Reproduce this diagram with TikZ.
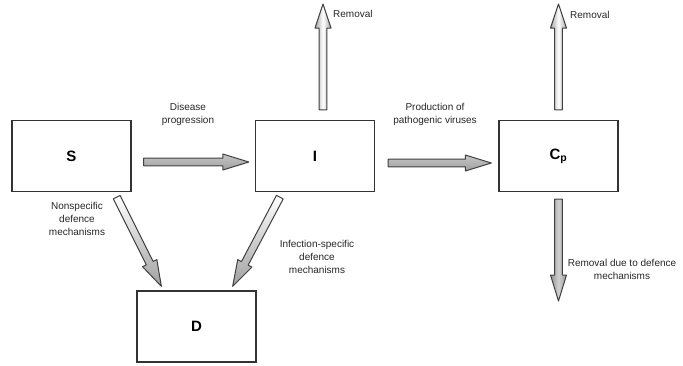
\documentclass[tikz,border=0pt]{standalone}
\usepackage{fontspec}
\setmainfont{Liberation Sans}
\usetikzlibrary{calc}
\tikzset{
  box/.style={draw=black!80, line width=1.3pt, minimum width=119pt, minimum height=71pt, inner sep=0pt, font=\fontsize{15}{18}\selectfont\bfseries},
  lbl/.style={font=\fontsize{10}{13}\selectfont, align=center, inner sep=0pt, text=black!85},
  farrow/.style={draw=black!75, line width=1pt, line join=round},
  grayh/.style={farrow, top color=gray!45, bottom color=gray!75},
  hollowv/.style={farrow, left color=gray!70, right color=gray!70, middle color=white},
  grayv/.style={farrow, left color=gray!85, right color=gray!85, middle color=gray!35},
  diag/.style={farrow, top color=white, bottom color=gray!75},
}
% \fatarrow[style]{start}{end}{headlength}
\newcommand{\fatarrow}[4][]{%
  \coordinate (fah) at ($(#3)!#4!(#2)$);
  \path[#1] ($(#2)!3.8pt!90:(#3)$) -- ($(fah)!3.8pt!90:(#3)$) -- ($(fah)!8pt!90:(#3)$) -- (#3)
    -- ($(fah)!8pt!-90:(#3)$) -- ($(fah)!3.8pt!-90:(#3)$) -- ($(#2)!3.8pt!-90:(#3)$) -- cycle;
}
\begin{document}
\begin{tikzpicture}[x=1pt, y=-1pt]
\useasboundingbox (0,0) rectangle (683,365);
% boxes
\node[box] (S) at (71.5,156) {S};
\node[box] (I) at (315,156) {I};
\node[box] (C) at (558.5,156) {C\textsubscript{p}};
\node[box] (D) at (196.5,326.5) {D};
% arrow end points
\coordinate (si1) at ($(S.east)+(12,6)$);
\coordinate (si2) at ($(I.west)+(-6,6)$);
\coordinate (ic1) at ($(I.east)+(13,7)$);
\coordinate (ic2) at ($(C.west)+(-7,7)$);
\coordinate (ir1) at ($(I.north)+(8,-10)$);
\coordinate (ir2) at (323,4);
\coordinate (cr1) at ($(C.north)+(0,-10)$);
\coordinate (cr2) at (558.5,4);
\coordinate (cd1) at ($(C.south)+(0,7)$);
\coordinate (cd2) at (558.5,301);
\coordinate (sd1) at ($(S.south east)+(-15,5)$);
\coordinate (sd2) at ($(D.north west)+(25,-4)$);
\coordinate (id1) at ($(I.south west)+(25,5)$);
\coordinate (id2) at ($(D.north east)+(-24,-4)$);
% arrows
\fatarrow[grayh]{si1}{si2}{26pt}
\fatarrow[grayh]{ic1}{ic2}{26pt}
\fatarrow[hollowv]{ir1}{ir2}{24pt}
\fatarrow[hollowv]{cr1}{cr2}{24pt}
\fatarrow[grayv]{cd1}{cd2}{26pt}
\fatarrow[diag]{sd1}{sd2}{26pt}
\fatarrow[diag]{id1}{id2}{26pt}
% labels
\node[lbl] (l1) at (188,114.5) {Disease\\progression};
\node[lbl] (l2) at (435,114) {Production of\\pathogenic viruses};
\node[lbl, anchor=west] (l3) at (333,14) {Removal};
\node[lbl, anchor=west] (l4) at (570,15) {Removal};
\node[lbl] (l5) at (77,218.5) {Nonspecific\\defence\\mechanisms};
\node[lbl] (l6) at (317,256.5) {Infection-specific\\defence\\mechanisms};
\node[lbl] (l7) at (622,269) {Removal due to defence\\mechanisms};
\end{tikzpicture}
\end{document}
